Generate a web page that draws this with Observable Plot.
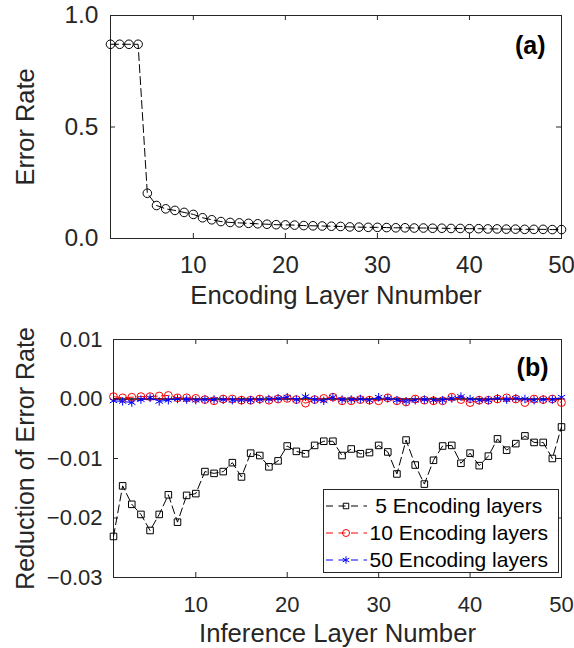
<!DOCTYPE html>
<html>
<head>
<meta charset="utf-8">
<script src="https://cdn.jsdelivr.net/npm/d3@7"></script>
<script src="https://cdn.jsdelivr.net/npm/@observablehq/plot@0.6"></script>
<style>
  body { margin: 0; background: #fff; }
  #wrap { position: relative; width: 574px; height: 648px; font-family: "Liberation Sans", Arial, sans-serif; }
  #wrap > svg { display: block; }
  #legend { position: absolute; left: 323px; top: 489px; }
</style>
</head>
<body>
<div id="wrap"></div>
<script>
// ---------- data ----------
const encodingLayer = d3.range(1, 51);
const errorRate = [
  0.871, 0.871, 0.871, 0.871, 0.203, 0.148, 0.133, 0.126, 0.117, 0.108,
  0.093, 0.084, 0.076, 0.072, 0.070, 0.068, 0.066, 0.064, 0.062, 0.061,
  0.060, 0.058, 0.057, 0.056, 0.055, 0.054, 0.052, 0.051, 0.050, 0.050,
  0.049, 0.048, 0.048, 0.047, 0.047, 0.046, 0.046, 0.045, 0.045, 0.044,
  0.044, 0.043, 0.043, 0.042, 0.042, 0.041, 0.041, 0.041, 0.040, 0.040
];

const inferenceLayer = d3.range(1, 51);
const reduction5 = [
  -0.0231, -0.0146, -0.0177, -0.0194, -0.0221, -0.0194, -0.0161, -0.0207, -0.0162, -0.0159,
  -0.0122, -0.0125, -0.0122, -0.0107, -0.0131, -0.0091, -0.0095, -0.0114, -0.0104, -0.0079,
  -0.0088, -0.0092, -0.0078, -0.0071, -0.0071, -0.0095, -0.0084, -0.0092, -0.0090, -0.0078,
  -0.0089, -0.0126, -0.0069, -0.0111, -0.0143, -0.0103, -0.0079, -0.0078, -0.0108, -0.0091,
  -0.0112, -0.0096, -0.0067, -0.0086, -0.0075, -0.0062, -0.0073, -0.0073, -0.0100, -0.0047
];
const reduction10 = [
  0.0004, 0.0002, 0.0003, 0.0004, 0.0004, 0.0005, 0.0006, 0.0002, 0.0002, 0.0001,
  -0.0001, -0.0003, 0.0000, 0.0000, -0.0002, -0.0002, 0.0000, -0.0002, 0.0000, 0.0001,
  -0.0001, -0.0007, -0.0001, 0.0001, 0.0003, -0.0003, -0.0003, -0.0001, -0.0002, -0.0003,
  0.0002, -0.0003, -0.0005, 0.0000, -0.0002, -0.0003, -0.0003, 0.0003, -0.0001, -0.0006,
  -0.0002, -0.0002, 0.0000, 0.0002, 0.0000, -0.0006, 0.0000, -0.0001, 0.0000, -0.0006
];
const reduction50 = [
  -0.0003, -0.0004, -0.0006, -0.0001, 0.0002, -0.0004, -0.0002, 0.0000, -0.0001, -0.0002,
  -0.0001, -0.0001, -0.0001, -0.0002, -0.0002, -0.0002, -0.0001, 0.0000, 0.0001, 0.0003,
  -0.0001, 0.0004, -0.0001, -0.0003, 0.0003, -0.0001, -0.0001, 0.0000, -0.0002, 0.0003,
  0.0001, -0.0002, -0.0004, -0.0002, -0.0001, -0.0002, -0.0002, 0.0001, 0.0004, 0.0000,
  -0.0002, -0.0002, 0.0001, -0.0001, 0.0001, 0.0000, -0.0002, -0.0001, -0.0001, 0.0003
];

const seriesNames = [" 5 Encoding layers", "10 Encoding layers", "50 Encoding layers"];
const seriesColors = ["#000000", "#ff0000", "#0000ff"];
const seriesSymbols = ["square", "circle", "asterisk"];
const seriesValues = [reduction5, reduction10, reduction50];

const xTicks = [10, 20, 30, 40, 50];
const topYTicks = [0, 0.5, 1.0];
const bottomYTicks = [-0.03, -0.02, -0.01, 0, 0.01];

// ---------- helpers ----------
const ink = "#262626";
const FONT = "Liberation Sans, Arial, sans-serif";
const W = 574;

function insideTicks(xt, yt, innerW, innerH, len) {
  return [
    Plot.ruleX(xt, {x: d => d, insetTop: innerH - len, stroke: ink}),
    Plot.ruleX(xt, {x: d => d, insetBottom: innerH - len, stroke: ink}),
    Plot.ruleY(yt, {y: d => d, insetRight: innerW - len, stroke: ink}),
    Plot.ruleY(yt, {y: d => d, insetLeft: innerW - len, stroke: ink})
  ];
}

const wrap = document.getElementById("wrap");

// ---------- panel (a) ----------
{
  const H = 320, mT = 15, mB = 82, mL = 110, mR = 13;
  const data = encodingLayer.map((x, i) => ({x, y: errorRate[i]}));
  const chart = Plot.plot({
    width: W, height: H,
    marginTop: mT, marginBottom: mB, marginLeft: mL, marginRight: mR,
    style: {fontFamily: FONT, color: ink, background: "white", overflow: "visible"},
    x: {domain: [1, 50]},
    y: {domain: [0, 1]},
    marks: [
      Plot.frame({stroke: ink}),
      ...insideTicks(xTicks, topYTicks, W - mL - mR, H - mT - mB, 5),
      Plot.axisX(xTicks, {tickSize: 0, tickPadding: 17, fontSize: 24, label: null, fill: ink}),
      Plot.axisY(topYTicks, {tickSize: 0, tickPadding: 12, fontSize: 24.5, label: null, fill: ink, tickFormat: d3.format(".1f")}),
      Plot.line(data, {x: "x", y: "y", stroke: "black", strokeWidth: 1, strokeDasharray: "8,4"}),
      Plot.dot(data, {x: "x", y: "y", r: 4.3, stroke: "black", fill: "none", strokeWidth: 1}),
      Plot.text(["(a)"], {frameAnchor: "top-right", textAnchor: "end", lineAnchor: "bottom", dx: -16, dy: 38, fontSize: 25, fontWeight: "bold", fill: "black"}),
      Plot.text(["Encoding Layer Nnumber"], {frameAnchor: "bottom", textAnchor: "middle", lineAnchor: "bottom", dy: 65, fontSize: 25.7, fill: ink}),
      Plot.text(["Error Rate"], {frameAnchor: "left", textAnchor: "middle", lineAnchor: "bottom", rotate: -90, dx: -77, fontSize: 25.4, fill: ink})
    ]
  });
  wrap.appendChild(chart);
}

// ---------- panel (b) ----------
{
  const H = 328, mT = 19, mB = 71, mL = 113, mR = 13;
  const rows = seriesNames.flatMap((name, s) =>
    inferenceLayer.map((x, i) => ({series: name, x, y: seriesValues[s][i]})));
  const marks = [
    Plot.frame({stroke: ink}),
    ...insideTicks(xTicks, bottomYTicks, W - mL - mR, H - mT - mB, 5),
    Plot.axisX(xTicks, {tickSize: 0, tickPadding: 19, fontSize: 22, label: null, fill: ink}),
    Plot.axisY(bottomYTicks, {tickSize: 0, tickPadding: 11, fontSize: 22, label: null, fill: ink, tickFormat: d3.format(".2f")})
  ];
  seriesNames.forEach((name, s) => {
    const d = rows.filter(r => r.series === name);
    marks.push(
      Plot.line(d, {x: "x", y: "y", stroke: seriesColors[s], strokeWidth: 1, strokeDasharray: "8,4"}),
      Plot.dot(d, {x: "x", y: "y", r: s === 0 ? 3.7 : (s === 1 ? 3.9 : 4), symbol: () => seriesSymbols[s], stroke: seriesColors[s], fill: "none", strokeWidth: 1})
    );
    if (s === 0) marks.push(Plot.ruleY([0], {stroke: "black", strokeWidth: 1.6}));
  });
  marks.push(
    Plot.text(["(b)"], {frameAnchor: "top-right", textAnchor: "end", lineAnchor: "bottom", dx: -13, dy: 36, fontSize: 25, fontWeight: "bold", fill: "black"}),
    Plot.text(["Inference Layer Number"], {frameAnchor: "bottom", textAnchor: "middle", lineAnchor: "bottom", dy: 64, fontSize: 25.7, fill: ink}),
    Plot.text(["Reduction of Error Rate"], {frameAnchor: "left", textAnchor: "middle", lineAnchor: "bottom", rotate: -90, dx: -80, fontSize: 25, fill: ink})
  );
  const chart = Plot.plot({
    width: W, height: H,
    marginTop: mT, marginBottom: mB, marginLeft: mL, marginRight: mR,
    style: {fontFamily: FONT, color: ink, background: "white", overflow: "visible"},
    x: {domain: [1, 50]},
    y: {domain: [-0.03, 0.01]},
    marks
  });
  wrap.appendChild(chart);
}

// ---------- legend ----------
{
  const lw = 236, lh = 84;
  const svg = d3.select(wrap).append("svg")
    .attr("id", "legend").attr("width", lw).attr("height", lh);
  svg.append("rect").attr("x", 0.5).attr("y", 0.5).attr("width", lw - 1).attr("height", lh - 1)
    .attr("fill", "white").attr("stroke", ink).attr("stroke-width", 1);
  const rowY = [17, 44, 71];
  const sym = {square: d3.symbolSquare, circle: d3.symbolCircle, asterisk: d3.symbolAsterisk};
  seriesNames.forEach((name, i) => {
    const g = svg.append("g").attr("transform", `translate(0,${rowY[i]})`);
    g.append("line").attr("x1", 3).attr("x2", 44).attr("y1", 0).attr("y2", 0)
      .attr("stroke", seriesColors[i]).attr("stroke-width", 1).attr("stroke-dasharray", "7,5.5");
    const r = i === 0 ? 3.1 : 3.5;
    g.append("path").attr("transform", "translate(23,0)")
      .attr("d", d3.symbol(sym[seriesSymbols[i]], Math.PI * r * r)())
      .attr("fill", "none").attr("stroke", seriesColors[i]).attr("stroke-width", 1);
    g.append("text").attr("x", 46.5).attr("y", 0).attr("dy", "0.35em")
      .attr("font-family", FONT).attr("font-size", 21).attr("fill", "black")
      .style("white-space", "pre").text(name);
  });
}
</script>
</body>
</html>
